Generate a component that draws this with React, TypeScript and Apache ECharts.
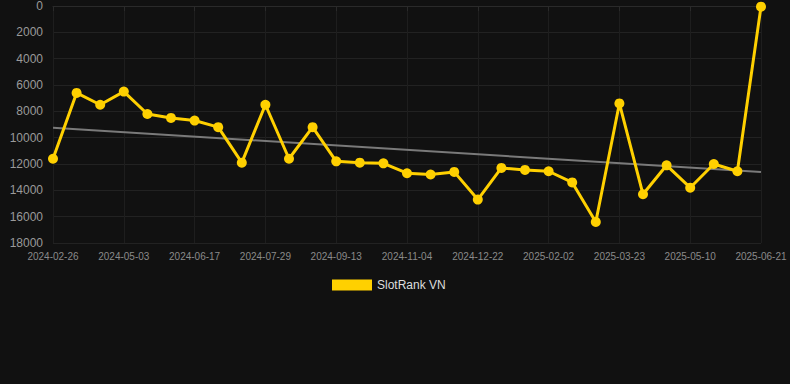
import React, { useEffect, useRef } from "react";
import * as echarts from "echarts";

const dates = [
  "2024-02-26", "2024-03-19", "2024-04-10", "2024-05-03", "2024-05-18", "2024-06-02",
  "2024-06-17", "2024-07-01", "2024-07-15", "2024-07-29", "2024-08-13", "2024-08-29",
  "2024-09-13", "2024-09-30", "2024-10-17", "2024-11-04", "2024-11-20", "2024-12-06",
  "2024-12-22", "2025-01-05", "2025-01-19", "2025-02-02", "2025-02-18", "2025-03-07",
  "2025-03-23", "2025-04-08", "2025-04-24", "2025-05-10", "2025-05-24", "2025-06-07",
  "2025-06-21",
];

const rankValues = [
  11600, 6600, 7500, 6500, 8200, 8500, 8700, 9200, 11900, 7500, 11600, 9200,
  11800, 11900, 11950, 12700, 12800, 12600, 14700, 12300, 12450, 12550, 13400, 16400,
  7400, 14300, 12100, 13800, 12000, 12550, 50,
];

const trendStart = 9250;
const trendEnd = 12600;

const yTicks = { min: 0, max: 18000, interval: 2000 };

export default function App() {
  const ref = useRef<HTMLDivElement>(null);
  useEffect(() => {
    document.body.style.margin = "0";
    const chart = echarts.init(ref.current!, null, { renderer: "svg" });
    const trend = dates.map((_, i) =>
      i === 0 ? trendStart : i === dates.length - 1 ? trendEnd : null
    );
    const font = "Liberation Sans, Arial, sans-serif";
    chart.setOption({
      animation: false,
      backgroundColor: "#111111",
      textStyle: { fontFamily: font },
      grid: { left: 53, right: 29, top: 6, bottom: 141, containLabel: false },
      legend: {
        data: [{ name: "SlotRank VN", icon: "rect" }],
        top: 274,
        left: 327,
        itemWidth: 40,
        itemHeight: 11,
        textStyle: { color: "#dddddd", fontSize: 12, fontFamily: font },
      },
      xAxis: {
        type: "category",
        data: dates,
        boundaryGap: false,
        axisLine: { show: true, lineStyle: { color: "#2a2a2a" } },
        axisTick: { show: true, interval: 2, length: 5, lineStyle: { color: "#2a2a2a" } },
        axisLabel: { interval: 2, color: "#8a8a8a", fontSize: 10, margin: 8 },
        splitLine: { show: true, interval: 2, lineStyle: { color: "#1e1e1e" } },
      },
      yAxis: {
        type: "value",
        inverse: true,
        min: yTicks.min,
        max: yTicks.max,
        interval: yTicks.interval,
        axisLine: { show: false },
        axisTick: { show: false },
        axisLabel: { color: "#9a9a9a", fontSize: 12, margin: 10, formatter: (v: number) => String(v) },
        splitLine: { show: true, lineStyle: { color: "#222222" } },
      },
      series: [
        {
          name: "SlotRank VN",
          type: "line",
          data: rankValues,
          symbol: "circle",
          symbolSize: 10,
          lineStyle: { color: "#ffd000", width: 3 },
          itemStyle: { color: "#ffd000" },
          z: 3,
        },
        {
          name: "trend",
          type: "line",
          data: trend,
          connectNulls: true,
          symbol: "none",
          lineStyle: { color: "#7a7a7a", width: 2 },
          itemStyle: { color: "#7a7a7a" },
          z: 2,
        },
      ],
    });
    return () => chart.dispose();
  }, []);
  return <div ref={ref} style={{ width: 790, height: 384 }} />;
}
